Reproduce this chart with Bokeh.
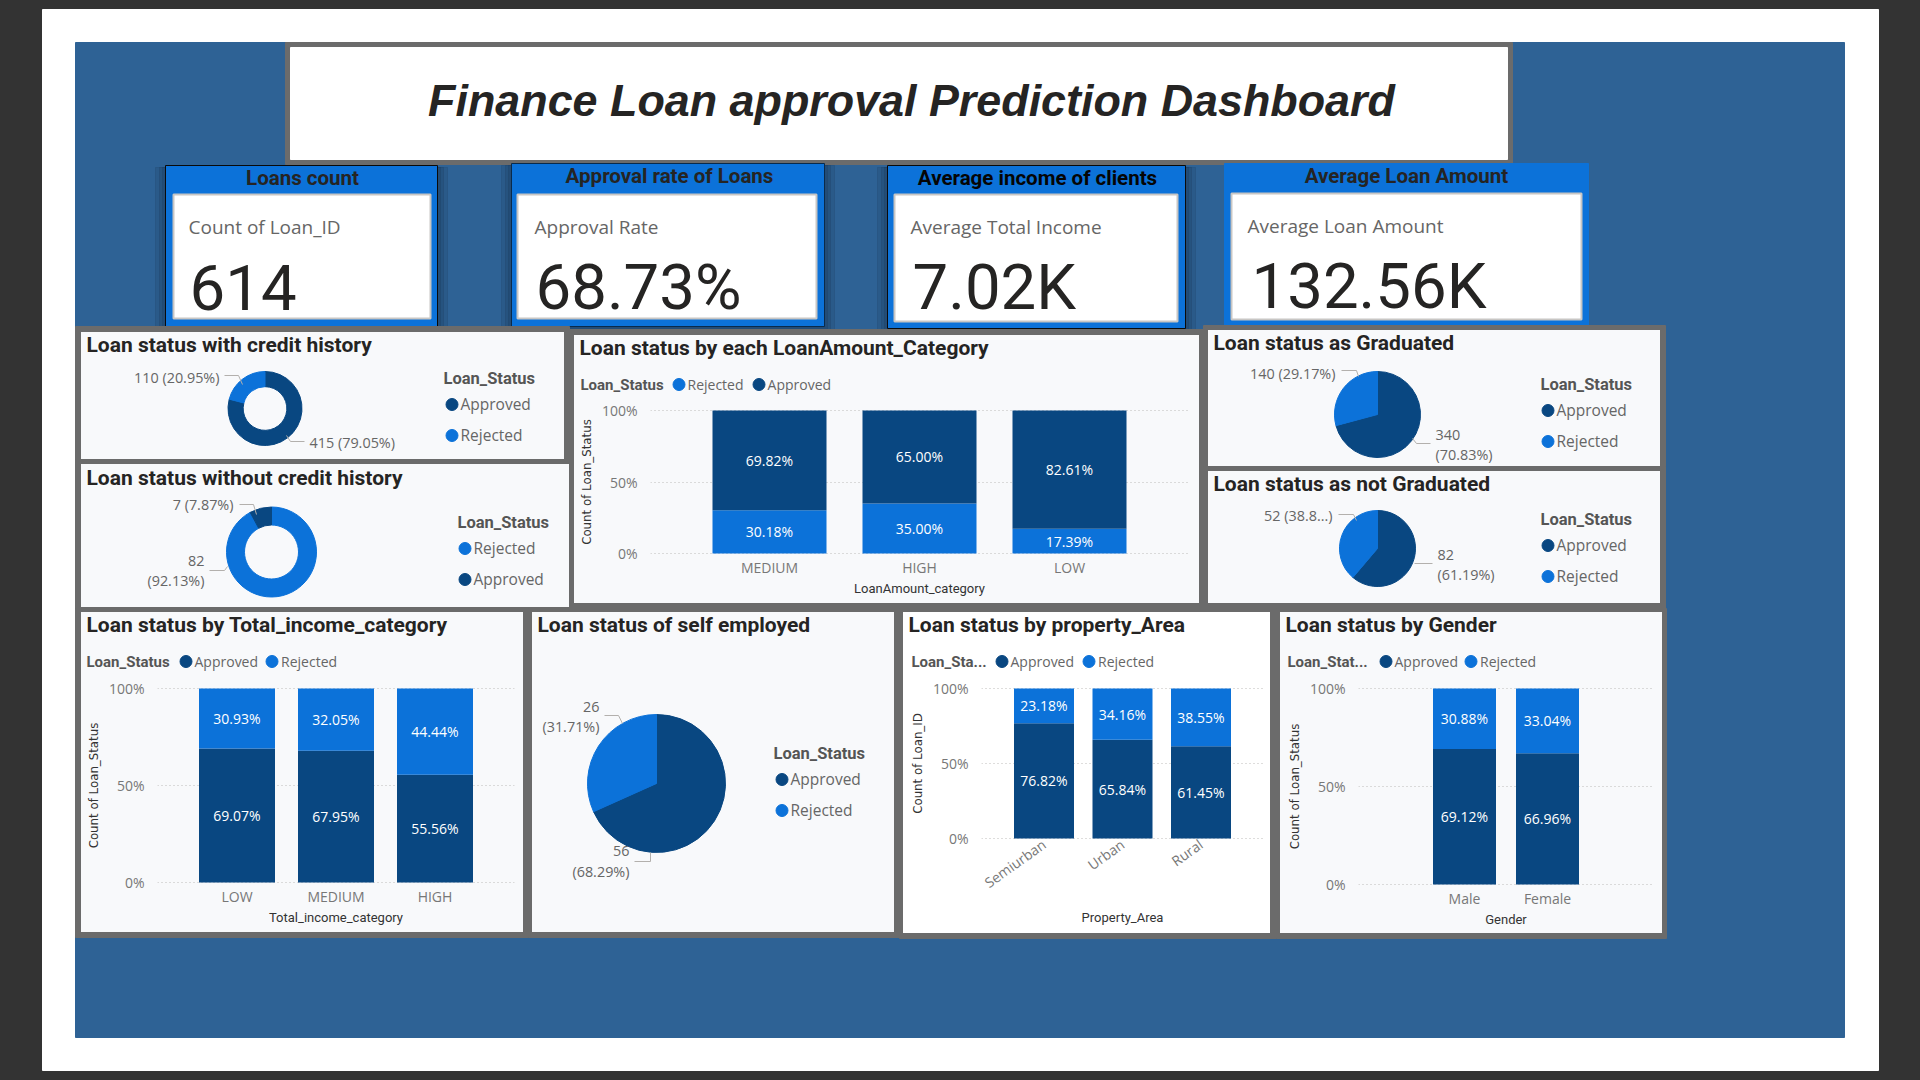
from math import pi

import numpy as np
from bokeh.core.properties import value
from bokeh.embed import file_html
from bokeh.layouts import column
from bokeh.models import (ColumnDataSource, FactorRange, FixedTicker, Label, Legend, LegendItem,
                          NumeralTickFormatter, Range1d)
from bokeh.plotting import figure
from bokeh.resources import INLINE

#=======================================#
# Data                                  #
#=======================================#
dash_title = "Finance Loan approval Prediction Dashboard"

kpi_titles = ["Loans count", "Approval rate of Loans", "Average income of clients", "Average Loan Amount"]
kpi_labels = ["Count of Loan_ID", "Approval Rate", "Average Total Income", "Average Loan Amount"]
kpi_values = ["614", "68.73%", "7.02K", "132.56K"]

credit_yes = [415, 110]
credit_no = [82, 7]
graduated = [340, 140]
not_graduated = [82, 52]
self_employed = [56, 26]

amount_cats = ["MEDIUM", "HIGH", "LOW"]
amount_rejected = [30.18, 35.00, 17.39]
amount_approved = [69.82, 65.00, 82.61]

income_cats = ["LOW", "MEDIUM", "HIGH"]
income_approved = [69.07, 67.95, 55.56]
income_rejected = [30.93, 32.05, 44.44]

area_cats = ["Semiurban", "Urban", "Rural"]
area_approved = [76.82, 65.84, 61.45]
area_rejected = [23.18, 34.16, 38.55]

gender_cats = ["Male", "Female"]
gender_approved = [69.12, 66.96]
gender_rejected = [30.88, 33.04]

#=======================================#
# Styles                                #
#=======================================#
NAVY = "#094781"
BLUE = "#0c72d9"
PANEL = "#f8f9fb"
BORDER = "#6b6b6b"
STEEL = "#2e6295"
COLORS = {"Approved": NAVY, "Rejected": BLUE}
HEAD_FONT = "Roboto"
BODY_FONT = "Open Sans"

#=======================================#
# Helpers                               #
#=======================================#

def place(p, x, y, fill):
    # fill goes on the element: canvas fills leave a seam round the frame
    p.styles = {"position": "absolute", "left": f"{x}px", "top": f"{y}px", "background": fill,
                "width": f"{p.width}px", "height": f"{p.height}px"}
    return p


def note(p, frame, x, y, text, size, color="#666666", font=BODY_FONT, style="normal", align="left"):
    label = Label(x=x - frame[0], y=frame[1] - y, x_units="screen", y_units="screen", text=text,
                  text_font=font, text_font_size=f"{size}px", text_color=color, text_font_style=style,
                  text_align=align, text_baseline="middle")
    p.add_layout(label)


def add_legend(p, frame, names, x, y, orientation, size, spacing=1):
    items = []
    for name in names:
        # the ellipse itself is parked out of frame, only its legend swatch shows
        dot = p.ellipse(x=[1e6], y=[1e6], width=10, height=10, width_units="screen", height_units="screen",
                        color=COLORS[name])
        items.append(LegendItem(label=name, renderers=[dot]))
    rows = len(names) if orientation == "vertical" else 1
    bottom = y + 15 + (rows - 1) * (30 + spacing)
    legend = Legend(items=items, orientation=orientation, location=(x - 7.5 - frame[0], frame[1] - bottom),
                    glyph_width=15, glyph_height=30, label_standoff=2, spacing=spacing, margin=0, padding=0,
                    background_fill_alpha=0, border_line_color=None, label_text_font=BODY_FONT,
                    label_text_font_size=f"{size}px", label_text_color="#666666", label_height=20)
    p.add_layout(legend)


def blank_figure(box, x_range, y_range):
    l, t, rt, b = box
    p = figure(width=rt - l, height=b - t, output_backend="svg", toolbar_location=None, x_axis_type=None,
               y_axis_type=None, background_fill_color=None, border_fill_color=None, outline_line_color=None,
               x_range=x_range, y_range=y_range, min_border_left=0, min_border_right=0, min_border_top=0,
               min_border_bottom=0, frame_align=False)
    p.grid.visible = False
    return p


def pie_panel(box, title, title_y, names, values, center, r, inner, labels, leaders, legend_xy, legend_rows):
    l, t, rt, b = box
    cx, cy = center
    p = blank_figure(box, Range1d((l - cx) / r, (rt - cx) / r), Range1d((cy - b) / r, (cy - t) / r))
    frame = (l, b)

    shares = np.cumsum([0] + list(values)) / sum(values)
    angles = pi / 2 - shares * 2 * pi
    for i, name in enumerate(names):
        p.annular_wedge(x=0, y=0, inner_radius=inner, outer_radius=1, start_angle=angles[i], end_angle=angles[i + 1],
                        direction="clock", color=COLORS[name])

    for pts in leaders:
        p.line([(x - cx) / r for x, y in pts], [(cy - y) / r for x, y in pts], color="#b3b0ad", line_width=1)
    for x, y, text, align in labels:
        note(p, frame, x, y, text, 14.4, align=align)

    note(p, frame, l + 5, title_y - 1, title, 21, "#252423", HEAD_FONT, "bold")
    note(p, frame, legend_xy[0], legend_xy[1] - 1, "Loan_Status", 16.5, "#555555", HEAD_FONT, "bold")
    add_legend(p, frame, names, legend_rows[0], legend_rows[1], "vertical", 15.5)
    return place(p, l, t, PANEL)


def bar_panel(box, title, legend_name, legend_x, markers, spacing, cats, series, band, bar, fx, y100, y0, xlabel,
              ylabel, bg=PANEL, rotate=None, x_standoff=1):
    l, t, rt, b = box
    fl, fr = fx
    top, bottom = y100 - 2, y0 + 2
    head_room = 10  # keeps the 100% tick label from being pushed down at the canvas edge

    # title and legend sit in their own strip above the plot
    strip = top - head_room
    head = blank_figure((l, t, rt, strip), Range1d(0, 1), Range1d(0, 1))
    frame = (l, strip)
    note(head, frame, l + 5, t + 12, title, 21, "#252423", HEAD_FONT, "bold")
    note(head, frame, legend_x, t + 49, legend_name, 15, "#555555", HEAD_FONT, "bold")
    add_legend(head, frame, markers, spacing[0], t + 49, "horizontal", 14, spacing[1])

    pad = 2 / (y0 - y100)
    gap = (fr - fl) - len(cats) * band
    p = figure(width=rt - l, height=b - strip, output_backend="svg", toolbar_location=None,
               x_range=FactorRange(factors=cats, range_padding=gap / (len(cats) * band)),
               y_range=Range1d(-pad, 1 + pad), min_border_left=fl - l, min_border_right=rt - fr,
               min_border_top=head_room, min_border_bottom=b - bottom, background_fill_color=None,
               border_fill_color=None, outline_line_color=None, frame_align=False)

    names = list(series)
    data = {"cat": cats}
    base = np.zeros(len(cats))
    for name in names:
        data[name] = np.array(series[name]) / 100
    source = ColumnDataSource(data)
    p.vbar_stack(names, x="cat", width=bar / band, color=[COLORS[n] for n in names], line_color=None, source=source)
    for name in names:
        vals = np.array(series[name]) / 100
        p.text(x=cats, y=base + vals / 2, text=[f"{v:.2f}%" for v in series[name]], text_color="white",
               text_font=value(BODY_FONT), text_font_size="14px", text_align="center", text_baseline="middle")
        base = base + vals

    p.xgrid.visible = False
    p.ygrid.grid_line_color = "#bdbbb9"
    p.ygrid.grid_line_dash = "1 3"
    p.yaxis.ticker = FixedTicker(ticks=[0, 0.5, 1])
    p.yaxis.formatter = NumeralTickFormatter(format="0%")
    for axis in (p.xaxis[0], p.yaxis[0]):
        axis.axis_line_color = None
        axis.major_tick_line_color = None
        axis.minor_tick_line_color = None
        axis.major_tick_out = 0
        axis.major_tick_in = 0
        axis.minor_tick_out = 0
        axis.major_label_text_font = BODY_FONT
        axis.major_label_text_font_size = "14px"
        axis.major_label_text_color = "#777777"
        axis.axis_label_text_font_style = "normal"
    p.yaxis.major_label_standoff = 13
    p.xaxis.major_label_standoff = 2
    p.xaxis.axis_label = xlabel
    p.xaxis.axis_label_text_font = HEAD_FONT
    p.xaxis.axis_label_text_font_size = "13px"
    p.xaxis.axis_label_text_color = "#333333"
    p.xaxis.axis_label_standoff = x_standoff
    p.yaxis.axis_label = ylabel
    p.yaxis.axis_label_text_font = "DejaVu Sans"
    p.yaxis.axis_label_text_font_size = "11.8px"
    p.yaxis.axis_label_text_color = "#333333"
    p.yaxis.axis_label_standoff = 5
    if rotate:
        p.xaxis.major_label_orientation = rotate

    return [place(head, l, t, bg), place(p, l, strip, bg)]


#=======================================#
# Page background, title and KPI cards  #
#=======================================#
bg = blank_figure((0, 0, 1920, 1080), Range1d(0, 1920), Range1d(1080, 0))
bg.quad(left=42, right=1878, top=9, bottom=1070, color="white")
bg.quad(left=75, right=1844, top=42, bottom=1037, color=STEEL)
bg.quad(left=285, right=1512, top=42, bottom=164, color=BORDER)
bg.quad(left=290, right=1507, top=47, bottom=159, color="white")
bg.text(x=[911], y=[100], text=[dash_title], text_font=value("Liberation Sans"), text_font_style="bold italic",
        text_font_size="44.85px", text_color="#252423", text_align="center", text_baseline="middle")

card_boxes = [(165, 165, 437, 326), (511, 163, 824, 326), (887, 165, 1185, 328), (1224, 163, 1588, 325)]
card_inner = [(173, 194, 430, 318), (517, 194, 816, 318), (894, 194, 1177, 321), (1231, 193, 1581, 319)]
card_text_x = [(302, 188, 189), (669, 534, 535), (1037, 910, 912), (1406, 1247, 1251)]
card_edge = ["#0a0a0a", "#0a2a4a", "#0a0a0a", BLUE]
card_head = ["#252423", "#252423", "#050505", "#252423"]

for i, (cl, ct, cr, cb) in enumerate(card_boxes):
    if i < 3:
        for grow in (10, 6, 3):
            bg.quad(left=cl - grow, right=cr + grow, top=ct + 2, bottom=cb + grow, color="#10233a", alpha=0.12)
    bg.quad(left=cl, right=cr, top=ct, bottom=cb, fill_color=BLUE, line_color=card_edge[i], line_width=1)
    il, it, ir, ib = card_inner[i]
    bg.quad(left=il, right=ir, top=it, bottom=ib, fill_color="white", line_color="#c8c6c4", line_width=2)
    head_x, label_x, value_x = card_text_x[i]
    bg.text(x=[head_x], y=[ct + 12.5], text=[kpi_titles[i]], text_font=value(HEAD_FONT), text_font_style="bold",
            text_font_size="20.5px", text_color=card_head[i], text_align="center", text_baseline="middle")
    bg.text(x=[label_x], y=[it + 32], text=[kpi_labels[i]], text_font=value(BODY_FONT), text_font_size="19px",
            text_color="#666666", text_baseline="middle")
    bg.text(x=[value_x], y=[it + 93], text=[kpi_values[i]], text_font=value(HEAD_FONT), text_font_size="63.5px",
            text_color="#252423", text_baseline="middle")

# dark frames behind the panels
for fl, ft, fr, fb in [(75, 326, 569, 464), (75, 459, 574, 608), (569, 329, 1203, 608), (1203, 325, 1665, 471),
                       (1203, 466, 1665, 608), (75, 608, 528, 937), (528, 608, 899, 937), (899, 608, 1276, 938),
                       (1276, 608, 1666, 938)]:
    bg.quad(left=fl, right=fr, top=ft, bottom=fb, color=BORDER)

#=======================================#
# Panels                                #
#=======================================#
panels = [
    pie_panel((81, 332, 564, 459), "Loan status with credit history", 345, ["Approved", "Rejected"], credit_yes,
              (264.5, 408), 37, 0.59,
              [(219, 377, "110 (20.95%)", "right"), (309, 442, "415 (79.05%)", "left")],
              [[(224, 375), (238, 375), (242, 384)], [(304, 441), (290, 441), (286, 435)]],
              (443, 379), (451, 404)),
    pie_panel((81, 464, 569, 607), "Loan status without credit history", 478, ["Rejected", "Approved"], credit_no,
              (271, 551.5), 45, 0.6,
              [(233, 504, "7 (7.87%)", "right"), (204, 560, "82", "right"), (204, 580, "(92.13%)", "right")],
              [[(239, 504), (253, 504), (256, 514)], [(209, 570), (224, 570), (227, 566)]],
              (457, 523), (464, 548)),
    pie_panel((1208, 330, 1660, 466), "Loan status as Graduated", 343, ["Approved", "Rejected"], graduated,
              (1377, 414), 43, 0,
              [(1335, 373, "140 (29.17%)", "right"), (1435, 434, "340", "left"), (1435, 454, "(70.83%)", "left")],
              [[(1341, 370), (1356, 370), (1358, 376)], [(1430, 443), (1416, 443), (1412, 438)]],
              (1540, 385), (1547, 410)),
    pie_panel((1208, 471, 1660, 603), "Loan status as not Graduated", 484, ["Approved", "Rejected"], not_graduated,
              (1377, 548), 38, 0,
              [(1332, 515, "52 (38.8...)", "right"), (1437, 554, "82", "left"), (1437, 574, "(61.19%)", "left")],
              [[(1338, 514), (1353, 514), (1356, 520)], [(1432, 563), (1414, 563)]],
              (1540, 520), (1547, 545)),
    pie_panel((532, 612, 894, 932), "Loan status of self employed", 625, ["Approved", "Rejected"], self_employed,
              (656, 783), 69, 0,
              [(599, 706, "26", "right"), (599, 726, "(31.71%)", "right"), (629, 850, "56", "right"),
               (629, 871, "(68.29%)", "right")],
              [[(604, 715), (618, 715), (622, 723)], [(634, 861), (650, 861), (650, 852)]],
              (773, 754), (781, 779)),
]
panels += bar_panel((574, 335, 1199, 603), "Loan status by each LoanAmount_Category", "Loan_Status", 580,
                    ["Rejected", "Approved"], (678, 7), amount_cats,
                    {"Rejected": amount_rejected, "Approved": amount_approved}, 150, 114, (650, 1188), 410, 553,
                    "LoanAmount_category", "Count of Loan_Status")
panels += bar_panel((81, 612, 523, 932), "Loan status by Total_income_category", "Loan_Status", 86,
                    ["Approved", "Rejected"], (185, 6), income_cats,
                    {"Approved": income_approved, "Rejected": income_rejected}, 99, 76, (157, 514), 688, 882,
                    "Total_income_category", "Count of Loan_Status")
panels += bar_panel((903, 612, 1270, 933), "Loan status by property_Area", "Loan_Sta...", 911,
                    ["Approved", "Rejected"], (1001, 7), area_cats,
                    {"Approved": area_approved, "Rejected": area_rejected}, 78.5, 60, (981, 1263), 688, 838,
                    "Property_Area", "Count of Loan_ID", bg="white", rotate=0.62, x_standoff=8)
panels += bar_panel((1280, 612, 1662, 933), "Loan status by Gender", "Loan_Stat...", 1287,
                    ["Approved", "Rejected"], (1385, 5), gender_cats,
                    {"Approved": gender_approved, "Rejected": gender_rejected}, 83, 63, (1358, 1653), 688, 884,
                    "Gender", "Count of Loan_Status")

p = column(place(bg, 0, 0, "#333333"), *panels, width=1920, height=1080, sizing_mode="fixed",
           styles={"position": "absolute", "left": "0px", "top": "0px"})

open("out.html", "w").write(file_html(p, INLINE))
